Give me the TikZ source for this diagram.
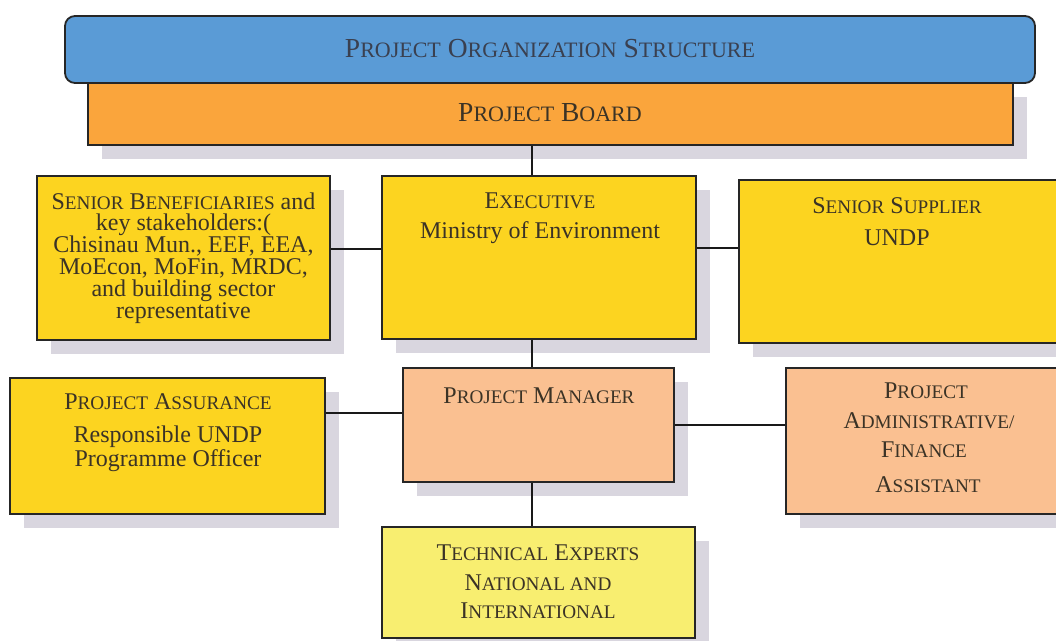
\documentclass[tikz,border=0pt]{standalone}
\usepackage{fontspec}
\setmainfont{Liberation Serif}
\usetikzlibrary{calc,shadows}
\makeatletter
\newcommand\Sc[2]{#1{\fontsize{\fpeval{0.8*\f@size}}{\f@baselineskip}\selectfont #2}}
\makeatother
\definecolor{blueC}{HTML}{5A9BD6}
\definecolor{orangeC}{HTML}{FAA53C}
\definecolor{yellowC}{HTML}{FCD420}
\definecolor{salmonC}{HTML}{FAC091}
\definecolor{lightyC}{HTML}{F8EE70}
\definecolor{shadowC}{HTML}{D9D6DF}
\definecolor{textC}{HTML}{3B3326}
\definecolor{titleC}{HTML}{3A4050}
\tikzset{
  box/.style={draw=black!85, line width=1.4pt, inner sep=0pt, rectangle},
  shad/.style={drop shadow={shadow xshift=14pt, shadow yshift=-14pt, fill=shadowC, opacity=1}},
  conn/.style={draw=black!90, line width=1.6pt},
  txt/.style={anchor=base, inner sep=0pt, text=textC, font=\fontsize{24}{24}\selectfont},
  big/.style={anchor=base, inner sep=0pt, text=titleC, font=\fontsize{27.5}{28}\selectfont}
}
\begin{document}
\begin{tikzpicture}[x=1pt,y=-1pt]
\fill[white] (0,0) rectangle (1056,640);
\useasboundingbox (0,0) rectangle (1056,640);
\clip (0,0) rectangle (1056,640);
% top banners
\node[box, shad, fill=orangeC, minimum width=925pt, minimum height=62pt] (board) at (550.5,114) {};
\node[box, fill=blueC, rounded corners=10pt, line width=1.8pt, minimum width=970pt, minimum height=67pt] (title) at (550,49.5) {};
% boxes
\node[box, shad, fill=yellowC, minimum width=293pt, minimum height=164pt, align=center, text=textC,
      font=\fontsize{24}{21.9}\selectfont] (sb) at (183.5,258)
  {\Sc{S}{ENIOR} \Sc{B}{ENEFICIARIES} and\\ key stakeholders:(\\ Chisinau Mun., EEF, EEA,\\ MoEcon, MoFin, MRDC,\\ and building sector\\ representative};
\node[box, shad, fill=yellowC, minimum width=314pt, minimum height=163pt] (ex) at (539,257.5) {};
\node[box, shad, fill=yellowC, minimum width=326pt, minimum height=163pt] (su) at (902,261.5) {};
\node[box, shad, fill=yellowC, minimum width=315pt, minimum height=136pt] (pa) at (167.5,446) {};
\node[box, shad, fill=salmonC, minimum width=271pt, minimum height=114pt] (pm) at (538.5,425) {};
\node[box, shad, fill=salmonC, minimum width=280pt, minimum height=146pt] (ad) at (926,441) {};
\node[box, shad, fill=lightyC, minimum width=313pt, minimum height=111pt] (tech) at (538.5,582.5) {};
% connectors
\draw[conn] ([xshift=-7pt]ex.north) -- ([xshift=-7pt]ex.north |- board.south);
\draw[conn] ([xshift=-7pt]ex.south) -- ([xshift=-7pt]ex.south |- pm.north);
\draw[conn] ([xshift=-6.5pt]pm.south) -- ([xshift=-6.5pt]pm.south |- tech.north);
\draw[conn] ([yshift=9pt]sb.east) -- ([yshift=9pt]sb.east -| ex.west);
\draw[conn] ([yshift=9.5pt]ex.east) -- ([yshift=9.5pt]ex.east -| su.west);
\draw[conn] ([yshift=33pt]pa.east) -- ([yshift=33pt]pa.east -| pm.west);
\draw[conn] (pm.east) -- (pm.east -| ad.west);
% texts
\node[big] (titleT) at (550,57) {\Sc{P}{ROJECT} \Sc{O}{RGANIZATION} \Sc{S}{TRUCTURE}};
\node[big, text=textC] (boardT) at (550,121) {\Sc{P}{ROJECT} \Sc{B}{OARD}};
\node[txt] (ex1) at (540,208) {\Sc{E}{XECUTIVE}};
\node[txt] (ex2) at (540,238) {Ministry of Environment};
\node[txt] (su1) at (897,213) {\Sc{S}{ENIOR} \Sc{S}{UPPLIER}};
\node[txt] (su2) at (897,245) {UNDP};
\node[txt] (pa1) at (168,409) {\Sc{P}{ROJECT} \Sc{A}{SSURANCE}};
\node[txt] (pa2) at (168,442) {Responsible UNDP};
\node[txt] (pa3) at (168,466) {Programme Officer};
\node[txt] (pm1) at (539,403) {\Sc{P}{ROJECT} \Sc{M}{ANAGER}};
\node[txt] (ad1) at (926,398) {\Sc{P}{ROJECT}};
\node[txt] (ad2) at (929,428) {\Sc{A}{DMINISTRATIVE/}};
\node[txt] (ad3) at (924,457) {\Sc{F}{INANCE}};
\node[txt] (ad4) at (928,492) {\Sc{A}{SSISTANT}};
\node[txt] (te1) at (538,560) {\Sc{T}{ECHNICAL} \Sc{E}{XPERTS}};
\node[txt] (te2) at (538,590) {\Sc{N}{ATIONAL AND}};
\node[txt] (te3) at (538,618) {\Sc{I}{NTERNATIONAL}};
\end{tikzpicture}
\end{document}
